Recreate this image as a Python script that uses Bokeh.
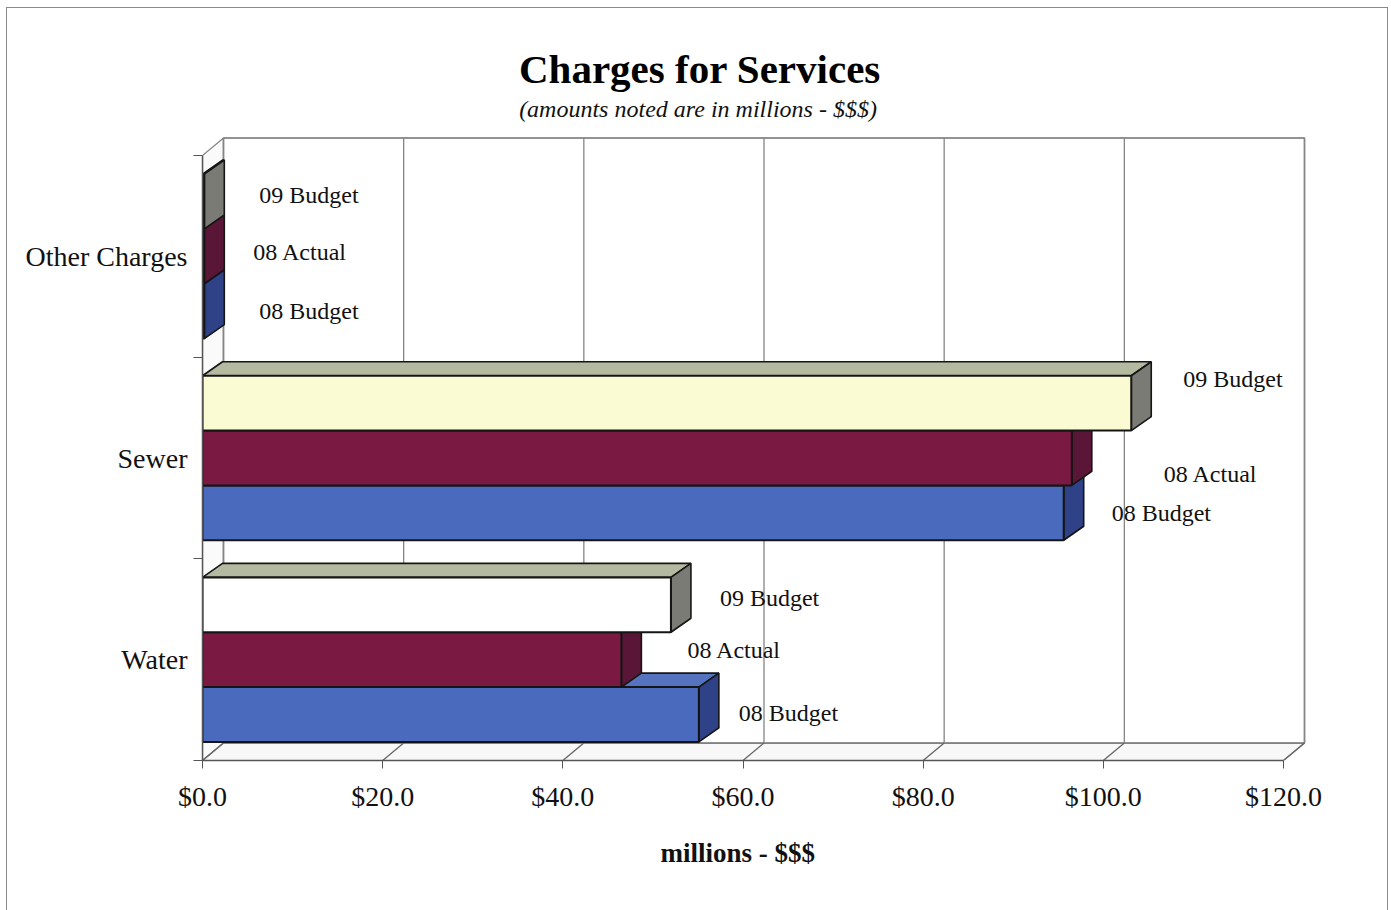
from bokeh.plotting import figure
from bokeh.models import Range1d, FixedTicker, Label, Title
from bokeh.embed import file_html
from bokeh.resources import INLINE

# ---------------- data ----------------
categories = ["Water", "Sewer", "Other Charges"]
series = ["08 Budget", "08 Actual", "09 Budget"]
budget_08 = [55.1, 95.6, 0.2]
actual_08 = [46.5, 96.5, 0.2]
budget_09 = [52.0, 103.1, 0.2]
x_ticks = [0, 20, 40, 60, 80, 100, 120]
x_tick_labels = ["$0.0", "$20.0", "$40.0", "$60.0", "$80.0", "$100.0", "$120.0"]
title_text = "Charges for Services"
subtitle_text = "(amounts noted are in millions - $$$)"
x_axis_title = "millions - $$$"

# ---------------- layout / style ----------------
FONT = "Liberation Serif"
W, H = 1391, 910
LEFT, RIGHT, TOP, BOTTOM = 202, 0, 0, 150
PX_X = 1081.0 / 120.0          # pixels per x unit
PX_Y = 605.0 / 3.0             # pixels per category
X_END = (W - LEFT - RIGHT) / PX_X
Y_END = (H - TOP - BOTTOM) / PX_Y
WALL_DX, WALL_DY = 21 / PX_X, 17.5 / PX_Y
BAR_DX, BAR_DY = 20 / PX_X, 14 / PX_Y
BAR_H = 0.272
GAP = (1 - 3 * BAR_H) / 2
GRID = "#858585"

front_colors = [["#4a6bbd"] * 3, ["#7a1a42"] * 3, ["#ffffff", "#fbfbd3", "#7f7d6f"]]
top_colors = ["#5673bf", "#6b1a3b", "#b4baa0"]
side_colors = ["#2f4288", "#5a1636", "#7b7b75"]

# label offsets in pixels (dx from bar end, dy downward from bar centre)
label_dx = [[40, 48, 55], [66, 92, 49], [49, 52, 55]]
label_dy = [[-2, 0, 0], [-10, 16, -4], [-7, -24, -6]]


def px_x(px):
    return (px - LEFT) / PX_X


def px_y(py):
    return (H - BOTTOM - py) / PX_Y


p = figure(width=W, height=H, output_backend="svg", toolbar_location=None,
           x_range=Range1d(0, X_END), y_range=Range1d(0, Y_END),
           min_border_left=LEFT, min_border_right=RIGHT,
           min_border_top=TOP, min_border_bottom=BOTTOM)
p.outline_line_color = None
p.grid.visible = False
p.background_fill_color = None
p.border_fill_color = None
p.styles = {
    "background-color": "white",
    "box-shadow": ("inset 6px 0 0 0 #ffffff, inset 0 7px 0 0 #ffffff, inset -3px 0 0 0 #ffffff, "
                   "inset 7px 0 0 0 #8a8a8a, inset 0 8px 0 0 #8a8a8a, inset -4px 0 0 0 #8a8a8a"),
}

# ---------------- walls ----------------
p.patch([0, WALL_DX, WALL_DX, 0], [0, WALL_DY, 3 + WALL_DY, 3],
        fill_color="#fafafa", line_color=GRID, line_width=1.2)
p.patch([0, 120, 120 + WALL_DX, WALL_DX], [0, 0, WALL_DY, WALL_DY],
        fill_color="#f8f8f8", line_color=GRID, line_width=1.2)
p.quad(left=WALL_DX, right=120 + WALL_DX, bottom=WALL_DY, top=3 + WALL_DY,
       fill_color="white", line_color="#6f6f6f", line_width=1.5)
p.segment(x0=[t + WALL_DX for t in x_ticks], y0=[WALL_DY] * len(x_ticks),
          x1=[t + WALL_DX for t in x_ticks], y1=[3 + WALL_DY] * len(x_ticks),
          line_color=GRID, line_width=1.3)
p.segment(x0=x_ticks, y0=[0] * len(x_ticks),
          x1=[t + WALL_DX for t in x_ticks], y1=[WALL_DY] * len(x_ticks),
          line_color="#666666", line_width=1.3)

# ---------------- 3D bars ----------------
values = [budget_08, actual_08, budget_09]
for s, name in enumerate(series):
    vals = values[s]
    bottoms = [c + GAP + s * BAR_H for c in range(len(categories))]
    tops = [b + BAR_H for b in bottoms]
    p.patches([[0, v, v + BAR_DX, BAR_DX] for v in vals],
              [[t, t, t + BAR_DY, t + BAR_DY] for t in tops],
              fill_color=top_colors[s], line_color="#151515", line_width=1.6)
    p.patches([[v, v + BAR_DX, v + BAR_DX, v] for v in vals],
              [[b, b + BAR_DY, t + BAR_DY, t] for b, t in zip(bottoms, tops)],
              fill_color=side_colors[s], line_color="#151515", line_width=1.6)
    p.quad(left=[0] * len(vals), right=vals, bottom=bottoms, top=tops,
           fill_color=front_colors[s], line_color="#151515", line_width=2)
    for c, v in enumerate(vals):
        centre = (bottoms[c] + tops[c]) / 2
        p.add_layout(Label(x=v + label_dx[s][c] / PX_X,
                           y=centre - label_dy[s][c] / PX_Y,
                           text=name, text_font=FONT, text_font_size="24px",
                           text_color="#111111", text_align="left",
                           text_baseline="middle"))

# ---------------- axes ----------------
xa = p.xaxis[0]
xa.ticker = FixedTicker(ticks=x_ticks)
xa.major_label_overrides = dict(zip(x_ticks, x_tick_labels))
xa.bounds = (0, 120)
xa.axis_line_color = "#555555"
xa.axis_line_width = 1.5
xa.major_tick_line_color = "#555555"
xa.major_tick_out = 8
xa.major_tick_in = 0
xa.minor_tick_line_color = None
xa.major_label_text_font = FONT
xa.major_label_text_font_size = "28px"
xa.major_label_text_color = "#111111"
xa.major_label_standoff = 12

# x-axis title (placed under the value axis, not the whole frame)
p.add_layout(Title(text=x_axis_title, align="left", offset=458, standoff=42,
                   text_font=FONT, text_font_size="27px", text_font_style="bold",
                   text_color="#111111"), "below")

ya = p.yaxis[0]
ya.ticker = FixedTicker(ticks=[0.5, 1.5, 2.5], minor_ticks=[0, 1, 2, 3])
ya.major_label_overrides = {0.5: categories[0], 1.5: categories[1], 2.5: categories[2]}
ya.bounds = (0, 3)
ya.axis_line_color = "#555555"
ya.axis_line_width = 1.5
ya.major_tick_line_color = None
ya.minor_tick_line_color = "#555555"
ya.minor_tick_out = 9
ya.minor_tick_in = 0
ya.major_label_text_font = FONT
ya.major_label_text_font_size = "28px"
ya.major_label_text_color = "#111111"
ya.major_label_standoff = 6

# ---------------- titles ----------------
p.add_layout(Label(x=px_x(699.5), y=px_y(68), text=title_text, text_font=FONT,
                   text_font_size="41px", text_font_style="bold",
                   text_color="#000000", text_align="center", text_baseline="middle"))
p.add_layout(Label(x=px_x(697.5), y=px_y(108), text=subtitle_text, text_font=FONT,
                   text_font_size="24px", text_font_style="italic",
                   text_color="#111111", text_align="center", text_baseline="middle"))

open("out.html", "w").write(file_html(p, INLINE))
